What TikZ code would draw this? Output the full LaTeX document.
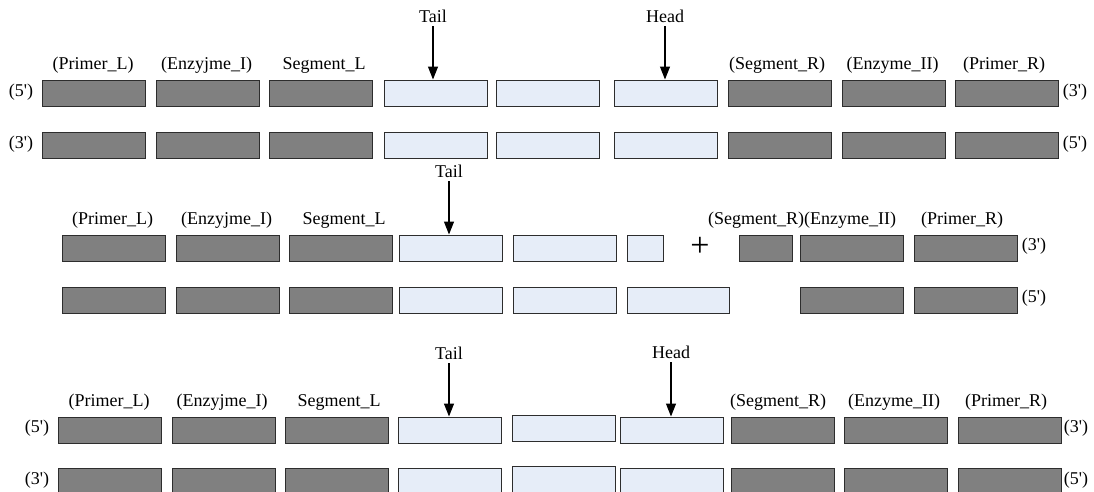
\documentclass[tikz,border=0pt]{standalone}
\usepackage{fontspec}
\newfontfamily\libser{Liberation Serif}
\usetikzlibrary{arrows.meta}
\definecolor{boxdark}{RGB}{128,128,128}
\definecolor{boxlight}{RGB}{230,237,248}
\definecolor{edgecol}{RGB}{45,45,45}
\begin{document}
\begin{tikzpicture}[x=1pt,y=-1pt,
  base/.style={draw=edgecol, line width=1.1pt, anchor=north west, inner sep=0pt, minimum height=26pt},
  dk/.style={base, fill=boxdark},
  lt/.style={base, fill=boxlight},
  lbl/.style={font=\libser\fontsize{18}{20}\selectfont, inner sep=0pt, text height=12.5pt, text depth=4pt},
  arr/.style={-{Triangle[length=13pt,width=10pt]}, line width=1.1pt}]
\useasboundingbox (0,0) rectangle (1094,491);
% ---------- section 1 ----------
\foreach \x/\s [count=\i] in {41/dk,155/dk,268/dk,383/lt,495/lt,613/lt,727/dk,841/dk,954/dk}{
  \node[\s, minimum width=103pt] (a\i) at (\x+0.5,79.5) {};
  \node[\s, minimum width=103pt] (b\i) at (\x+0.5,131.5) {};
}
\node[lbl] (la1) at (93,65) {(Primer\_L)};
\node[lbl] (la2) at (206.5,65) {(Enzyjme\_I)};
\node[lbl] (la3) at (324,65) {Segment\_L};
\node[lbl] (la7) at (777,65) {(Segment\_R)};
\node[lbl] (la8) at (892.5,65) {(Enzyme\_II)};
\node[lbl] (la9) at (1004,65) {(Primer\_R)};
\node[lbl] (ea1) at (21,92) {(5')};
\node[lbl] (ea2) at (21,144) {(3')};
\node[lbl] (ea3) at (1075,92) {(3')};
\node[lbl] (ea4) at (1075,144) {(5')};
\node[lbl] (tail1) at (433,18) {Tail};
\node[lbl] (head1) at (665,18) {Head};
\draw[arr] (tail1.south) -- (tail1.south |- a4.north);
\draw[arr] (head1.south) -- (head1.south |- a6.north);
% ---------- section 2 ----------
\foreach \x/\w/\s [count=\i] in {61/103/dk,175/103/dk,288/103/dk,398/103/lt,512/103/lt,626/36/lt,738/53/dk,799/103/dk,913/103/dk}{
  \node[\s, minimum width=\w pt] (c\i) at (\x+0.5,234.5) {};
}
\foreach \x/\w/\s [count=\i] in {61/103/dk,175/103/dk,288/103/dk,398/103/lt,512/103/lt,626/102/lt,799/103/dk,913/103/dk}{
  \node[\s, minimum width=\w pt] (d\i) at (\x+0.5,286.5) {};
}
\node[lbl] (lc1) at (112.5,220) {(Primer\_L)};
\node[lbl] (lc2) at (226.5,220) {(Enzyjme\_I)};
\node[lbl] (lc3) at (344,220) {Segment\_L};
\node[lbl] (lc7) at (756,220) {(Segment\_R)};
\node[lbl] (lc8) at (850,220) {(Enzyme\_II)};
\node[lbl] (lc9) at (962,220) {(Primer\_R)};
\node[lbl] (ec1) at (1034,246) {(3')};
\node[lbl] (ec2) at (1034,298) {(5')};
\node[font=\libser\fontsize{34}{36}\selectfont, inner sep=0pt] (plus) at (700,247) {+};
\node[lbl] (tail2) at (449,173) {Tail};
\draw[arr] (tail2.south) -- (tail2.south |- c4.north);
% ---------- section 3 ----------
\foreach \x/\y/\s [count=\i] in {57/416/dk,171/416/dk,284/416/dk,397/416/lt,511/414/lt,619/416/lt,730/416/dk,843/416/dk,957/416/dk}{
  \node[\s, minimum width=103pt] (e\i) at (\x+0.5,\y+0.5) {};
  \node[\s, minimum width=103pt] (f\i) at (\x+0.5,\y+51.5) {};
}
\node[lbl] (le1) at (109,402) {(Primer\_L)};
\node[lbl] (le2) at (222,402) {(Enzyjme\_I)};
\node[lbl] (le3) at (339,402) {Segment\_L};
\node[lbl] (le7) at (778,402) {(Segment\_R)};
\node[lbl] (le8) at (894,402) {(Enzyme\_II)};
\node[lbl] (le9) at (1006,402) {(Primer\_R)};
\node[lbl] (ee1) at (37,428) {(5')};
\node[lbl] (ee2) at (37,480) {(3')};
\node[lbl] (ee3) at (1076,428) {(3')};
\node[lbl] (ee4) at (1076,480) {(5')};
\node[lbl] (tail3) at (449,355) {Tail};
\node[lbl] (head3) at (671,354) {Head};
\draw[arr] (tail3.south) -- (tail3.south |- e4.north);
\draw[arr] (head3.south) -- (head3.south |- e6.north);
\end{tikzpicture}
\end{document}
